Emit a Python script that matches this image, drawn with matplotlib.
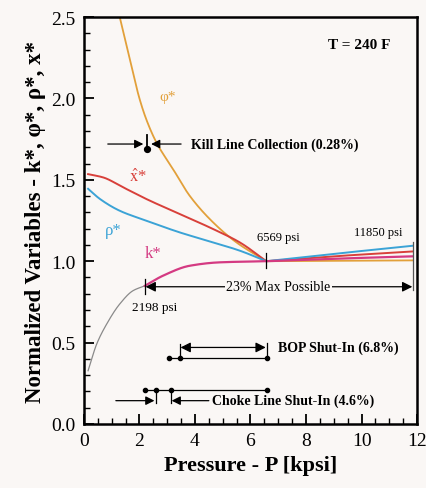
import matplotlib
matplotlib.use("Agg")
import matplotlib.pyplot as plt
import numpy as np
from matplotlib.ticker import MultipleLocator

plt.rcParams['font.family'] = ['Liberation Serif', 'DejaVu Serif']
plt.rcParams['mathtext.fontset'] = 'stix'

# --- data ---
P_JUNCTION = 6.569  # kpsi, where all curves meet
P_MAX = 11.85       # kpsi
P_MIN_K = 2.198     # kpsi

phi_p = [1.29, 1.64, 2.0, 2.25, 2.61, 3.21, 3.81, 4.65, 5.49, 6.569, 9.0, 11.85]
phi_v = [2.50, 2.25, 2.0, 1.87, 1.73, 1.566, 1.402, 1.239, 1.116, 1.0, 1.002, 1.005]

x_p = [0.15, 0.69, 1.41, 2.25, 3.45, 4.65, 5.61, 6.569, 9.0, 11.85]
x_v = [1.535, 1.515, 1.454, 1.382, 1.29, 1.198, 1.116, 1.0, 1.03, 1.06]

rho_p = [0.15, 0.58, 1.29, 2.25, 3.45, 4.65, 5.61, 6.569, 9.0, 11.85]
rho_v = [1.445, 1.382, 1.31, 1.249, 1.177, 1.116, 1.065, 1.0, 1.045, 1.095]

k_p = [2.198, 2.85, 3.81, 4.89, 6.569, 9.0, 11.85]
k_v = [0.849, 0.911, 0.972, 0.993, 1.0, 1.015, 1.03]

klow_p = [0.15, 0.46, 0.82, 1.29, 1.77, 2.198]
klow_v = [0.327, 0.491, 0.614, 0.737, 0.819, 0.849]

x_ticks = [0, 2, 4, 6, 8, 10, 12]
y_ticks = [0.0, 0.5, 1.0, 1.5, 2.0, 2.5]

c_phi = '#e2a03a'
c_x = '#d8403a'
c_rho = '#3ba3d6'
c_k = '#d43a82'
bg = '#faf7f5'


def pchip(px, py, n=300):
    """Monotone cubic (PCHIP) interpolation for smooth curves through points."""
    x = np.asarray(px, float); y = np.asarray(py, float)
    h = np.diff(x); d = np.diff(y) / h
    m = np.zeros_like(y)
    for i in range(1, len(x) - 1):
        if d[i - 1] * d[i] > 0:
            w1 = 2 * h[i] + h[i - 1]; w2 = h[i] + 2 * h[i - 1]
            m[i] = (w1 + w2) / (w1 / d[i - 1] + w2 / d[i])
    m[0] = d[0]; m[-1] = d[-1]
    t = np.linspace(x[0], x[-1], n)
    idx = np.clip(np.searchsorted(x, t) - 1, 0, len(x) - 2)
    hh = h[idx]; s = (t - x[idx]) / hh
    h00 = 2 * s**3 - 3 * s**2 + 1; h10 = s**3 - 2 * s**2 + s
    h01 = -2 * s**3 + 3 * s**2; h11 = s**3 - s**2
    yy = h00 * y[idx] + h10 * hh * m[idx] + h01 * y[idx + 1] + h11 * hh * m[idx + 1]
    return t, yy


def split_curve(px, py):
    """Smooth each side of the junction separately (sharp kink at junction)."""
    px = np.asarray(px); py = np.asarray(py)
    left = px <= P_JUNCTION + 1e-9
    right = px >= P_JUNCTION - 1e-9
    t1, y1 = pchip(px[left], py[left])
    t2, y2 = pchip(px[right], py[right])
    return np.concatenate([t1, t2]), np.concatenate([y1, y2])


fig = plt.figure(figsize=(4.26, 4.89), dpi=100, facecolor=bg)
ax = fig.add_axes([0.197, 0.131, 0.782, 0.832], facecolor=bg)

ax.plot(*pchip(klow_p, klow_v), color='#8a8a8a', lw=0.9)
ax.plot(*split_curve(phi_p, phi_v), color=c_phi, lw=1.3)
ax.plot(*split_curve(x_p, x_v), color=c_x, lw=1.4)
ax.plot(*split_curve(rho_p, rho_v), color=c_rho, lw=1.4)
ax.plot(*split_curve(k_p, k_v), color=c_k, lw=1.6)

ax.set_xlim(0, 12)
ax.set_ylim(0, 2.5)
ax.set_xticks(x_ticks)
ax.set_yticks(y_ticks)
ax.set_xticklabels([str(t) for t in x_ticks])
ax.set_yticklabels([f'{t:.1f}' for t in y_ticks])
ax.xaxis.set_minor_locator(MultipleLocator(0.5))
ax.yaxis.set_minor_locator(MultipleLocator(0.1))
ax.tick_params(which='major', direction='in', length=7, width=1.3, labelsize=14, pad=6)
ax.tick_params(which='minor', direction='in', length=4, width=1.0)
for s in ax.spines.values():
    s.set_linewidth(1.8)

ax.set_xlabel('Pressure - P [kpsi]', fontsize=16, fontweight='bold', labelpad=4)
ax.set_ylabel('Normalized Variables - k*, \u03c6*, \u03c1*, x*', fontsize=16.5, fontweight='bold', labelpad=4)

# curve labels
ax.text(3.0, 2.01, '\u03c6*', color=c_phi, fontsize=11, ha='center', va='center')
ax.text(1.95, 1.52, r'$\hat{\mathrm{x}}$*', color=c_x, fontsize=12, ha='center', va='center')
ax.text(1.05, 1.19, '\u03c1*', color=c_rho, fontsize=12, ha='center', va='center')
ax.text(2.5, 1.05, 'k*', color=c_k, fontsize=12, ha='center', va='center')

ax.text(9.9, 2.33, 'T = 240 F', fontsize=11, fontweight='bold', ha='center', va='center')

# 6569 / 11850 markers
ax.plot([P_JUNCTION, P_JUNCTION], [0.96, 1.05], color='k', lw=0.9)
ax.text(7.0, 1.15, '6569 psi', fontsize=9, ha='center', va='center')
ax.plot([P_MAX, P_MAX], [0.82, 1.12], color='#555555', lw=0.9)
ax.text(10.6, 1.18, '11850 psi', fontsize=9, ha='center', va='center')

# 23% max possible
ax.plot([P_MIN_K, P_MIN_K], [0.80, 0.89], color='k', lw=0.9)
ax.text(2.55, 0.72, '2198 psi', fontsize=9.5, ha='center', va='center')
ax.annotate('', xy=(2.22, 0.843), xytext=(11.83, 0.843),
            arrowprops=dict(arrowstyle='<|-|>', color='k', lw=0.9, mutation_scale=15,
                            shrinkA=0, shrinkB=0))
ax.text(7.0, 0.843, '23% Max Possible', fontsize=10, ha='center', va='center',
        bbox=dict(boxstyle='square,pad=0.1', fc=bg, ec='none'))

# Kill line collection
ax.annotate('', xy=(2.14, 1.72), xytext=(0.86, 1.72),
            arrowprops=dict(arrowstyle='-|>', color='k', lw=0.9, mutation_scale=13,
                            shrinkA=0, shrinkB=0))
ax.annotate('', xy=(2.42, 1.72), xytext=(3.5, 1.72),
            arrowprops=dict(arrowstyle='-|>', color='k', lw=0.9, mutation_scale=13,
                            shrinkA=0, shrinkB=0))
ax.plot([2.27, 2.27], [1.69, 1.775], color='k', lw=1.3)
ax.plot([2.27], [1.688], marker='o', ms=4.2, color='k')
ax.text(3.85, 1.72, 'Kill Line Collection (0.28%)', fontsize=10, fontweight='bold', ha='left', va='center')

# BOP shut-in
ax.annotate('', xy=(3.48, 0.47), xytext=(6.55, 0.47),
            arrowprops=dict(arrowstyle='<|-|>', color='k', lw=0.9, mutation_scale=15,
                            shrinkA=0, shrinkB=0))
ax.plot([3.45, 3.45], [0.40, 0.49], color='k', lw=0.9)
ax.plot([6.6, 6.6], [0.40, 0.50], color='k', lw=0.9)
ax.plot([3.05, 6.6], [0.403, 0.403], color='k', lw=0.9)
ax.plot([3.05, 3.45, 6.6], [0.403, 0.403, 0.403], 'o', color='k', ms=3)
ax.text(7.0, 0.47, 'BOP Shut-In (6.8%)', fontsize=10, fontweight='bold', ha='left', va='center')

# Choke line shut-in
ax.plot([2.2, 6.6], [0.209, 0.209], color='k', lw=0.9)
ax.plot([2.2, 2.58, 3.12, 6.6], [0.209] * 4, 'o', color='k', ms=3)
ax.plot([2.58, 2.58], [0.13, 0.209], color='k', lw=0.9)
ax.plot([3.12, 3.12], [0.13, 0.209], color='k', lw=0.9)
ax.annotate('', xy=(2.54, 0.143), xytext=(1.15, 0.143),
            arrowprops=dict(arrowstyle='-|>', color='k', lw=0.9, mutation_scale=13,
                            shrinkA=0, shrinkB=0))
ax.annotate('', xy=(3.16, 0.143), xytext=(4.5, 0.143),
            arrowprops=dict(arrowstyle='-|>', color='k', lw=0.9, mutation_scale=13,
                            shrinkA=0, shrinkB=0))
ax.text(4.62, 0.143, 'Choke Line Shut-In (4.6%)', fontsize=10, fontweight='bold', ha='left', va='center')

fig.savefig('out.png', dpi=100, facecolor=bg)
